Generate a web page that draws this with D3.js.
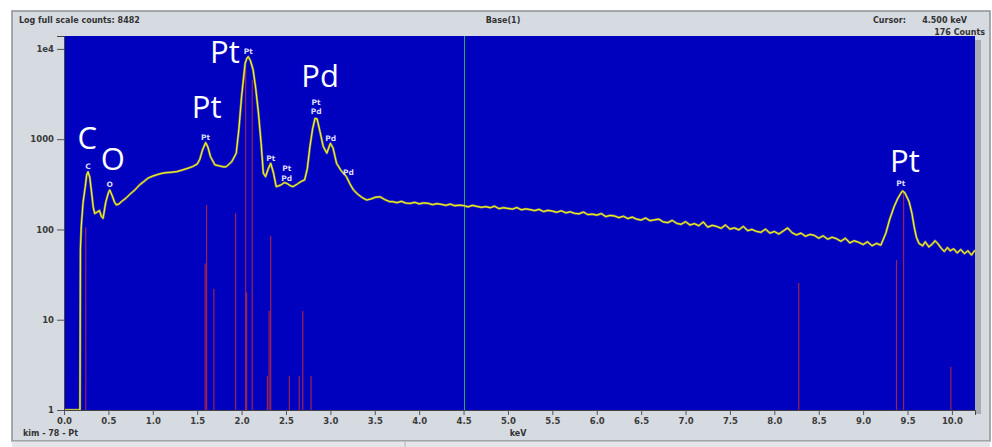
<!DOCTYPE html>
<html>
<head>
<meta charset="utf-8">
<script src="https://cdn.jsdelivr.net/npm/d3@7"></script>
<style>
  html, body { margin: 0; padding: 0; background: #fff; }
  svg { display: block; }
  .tick text { font-family: "DejaVu Sans", sans-serif; font-size: 8.5px; font-weight: bold; fill: #3a3a3a; }
  .tick line { stroke: #555; }
</style>
</head>
<body>
<svg width="992" height="447"></svg>
<script>
// spectrum (keV, counts)
const specKeV = [0, 0.18, 0.185, 0.195, 0.215, 0.24, 0.255, 0.27, 0.29, 0.31, 0.33, 0.346, 0.37, 0.40, 0.42, 0.44, 0.47, 0.50, 0.515, 0.54, 0.57, 0.59, 0.62, 0.65, 0.70, 0.75, 0.80, 0.85, 0.90, 0.95, 1.00, 1.05, 1.10, 1.15, 1.20, 1.27, 1.33, 1.40, 1.45, 1.50, 1.53, 1.56, 1.595, 1.62, 1.65, 1.70, 1.75, 1.80, 1.83, 1.89, 1.94, 1.97, 2.00, 2.04, 2.06, 2.075, 2.10, 2.13, 2.16, 2.19, 2.22, 2.245, 2.27, 2.30, 2.328, 2.36, 2.39, 2.44, 2.48, 2.51, 2.55, 2.58, 2.63, 2.67, 2.71, 2.74, 2.77, 2.80, 2.827, 2.85, 2.88, 2.92, 2.96, 3.00, 3.03, 3.07, 3.12, 3.18, 3.22, 3.26, 3.31, 3.36, 3.41, 3.46, 3.51, 3.56, 3.61, 3.67,
  3.70, 3.75, 3.80, 3.85, 3.90, 3.95, 4.00, 4.05, 4.10, 4.15, 4.20, 4.25, 4.30, 4.35, 4.40, 4.45, 4.50, 4.55, 4.60, 4.65, 4.70, 4.75, 4.80, 4.85, 4.90, 4.95, 5.00, 5.05, 5.10, 5.15, 5.20, 5.25, 5.30, 5.35, 5.40, 5.45, 5.50, 5.55, 5.60, 5.65, 5.70, 5.75, 5.80, 5.85, 5.90, 5.95, 6.00, 6.05, 6.10, 6.15, 6.20, 6.25, 6.30, 6.35, 6.40, 6.45, 6.50, 6.55, 6.60, 6.65, 6.70, 6.75, 6.80, 6.85, 6.90, 6.95, 7.00, 7.05, 7.10, 7.15, 7.20, 7.25, 7.30, 7.35, 7.40, 7.45, 7.50, 7.55, 7.60, 7.65, 7.70, 7.75, 7.80, 7.85, 7.90, 7.95, 8.00, 8.05, 8.10, 8.15, 8.20, 8.25, 8.30, 8.35, 8.40, 8.45, 8.50, 8.55, 8.60, 8.65, 8.70, 8.75, 8.80, 8.85, 8.90, 8.95, 9.00, 9.05, 9.10, 9.15, 9.20,
  9.256, 9.30, 9.349, 9.39, 9.425, 9.444, 9.47, 9.518, 9.55, 9.575, 9.60, 9.63, 9.67, 9.70, 9.74, 9.78, 9.81, 9.84, 9.88, 9.914, 9.95, 9.98, 10.02, 10.06, 10.10, 10.14, 10.18, 10.22, 10.26];
const specCounts = [1, 1, 60, 110, 200, 300, 400, 435, 380, 260, 175, 150, 155, 162, 140, 133, 200, 255, 274, 240, 200, 187, 192, 205, 223, 250, 275, 311, 340, 372, 390, 405, 418, 425, 430, 437, 455, 478, 498, 530, 600, 760, 916, 820, 640, 519, 505, 492, 498, 565, 700, 1300, 2960, 6900, 7900, 8200, 7400, 5850, 3600, 1950, 900, 420, 385, 470, 540, 420, 298, 310, 330, 324, 305, 298, 320, 340, 354, 470, 830, 1300, 1700, 1680, 1250, 830, 700, 900, 800, 540, 450, 385, 320, 274, 245, 225, 212, 218, 228, 230, 215, 203,
  203, 198, 205, 196, 194, 200, 192, 197, 195, 188, 193, 190, 185, 191, 183, 186, 184, 178, 185, 180, 176, 179, 174, 181, 170, 174, 171, 168, 175, 165, 169, 166, 162, 167, 158, 163, 160, 155, 161, 153, 157, 151, 149, 156, 146, 148, 144, 150, 139, 143, 141, 135, 140, 132, 137, 130, 127, 134, 125, 128, 130, 121, 119, 126, 117, 114, 122, 112, 116, 110, 121, 106, 111, 108, 103, 112, 101, 104, 99, 108, 97, 100, 95, 93, 101, 91, 95, 89, 96, 104, 92, 87, 91, 84, 88, 86, 80, 85, 78, 82, 79, 74, 80, 71, 75, 72, 68, 73, 66, 70, 67,
  91, 130, 179, 220, 252, 267, 255, 203, 150, 107, 82, 70, 66, 73, 64, 69, 75, 70, 62, 57, 63, 58, 61, 55, 60, 54, 58, 52, 59];

// element marker lines (keV, counts)
const markerKeV = [0.245, 1.590, 1.606, 1.688, 1.933, 2.046, 2.057, 2.120, 2.290, 2.310, 2.328, 2.538, 2.650, 2.689, 2.782, 8.275, 9.376, 9.456, 9.988];
const markerCounts = [105, 42, 187, 22, 151, 6600, 20, 4500, 2.4, 12.5, 85, 2.4, 2.4, 12.5, 2.4, 25.5, 46, 267, 3];

// peak labels
const bigText = ["C", "O", "Pt", "Pt", "Pd", "Pt"];
const bigKeV = [0.262, 0.549, 1.606, 1.812, 2.884, 9.470];
const bigCounts = [780, 456, 1720, 7000, 3820, 437];

const smallText = ["C", "O", "Pt", "Pt", "Pt", "Pd", "Pt", "Pt", "Pd", "Pd", "Pd", "Pt"];
const smallKeV = [0.271, 0.515, 1.595, 2.075, 2.839, 2.839, 2.328, 2.508, 2.508, 3.004, 3.203, 9.425];
const smallCounts = [467, 292, 968, 8800, 2415, 1905, 578, 448, 342, 964, 405, 301];

const yTicks = [1, 10, 100, 1000, 10000];
const yTickLabels = ["1", "10", "100", "1000", "1e4"];
const xTicks = [0, 0.5, 1, 1.5, 2, 2.5, 3, 3.5, 4, 4.5, 5, 5.5, 6, 6.5, 7, 7.5, 8, 8.5, 9, 9.5, 10];

const cursorKeV = 4.5;

const plotLeft = 64, plotRight = 975, plotTop = 36, plotBottom = 410;

const svg = d3.select("svg");

// panel
svg.append("rect").attr("x", 12).attr("y", 11).attr("width", 978).attr("height", 430)
  .attr("fill", "#d6dae1").attr("stroke", "#8e9095").attr("stroke-width", 1.5);
svg.append("rect").attr("x", 12).attr("y", 441).attr("width", 978).attr("height", 6)
  .attr("fill", "#e4e6ea");
svg.append("line").attr("x1", 12).attr("x2", 990).attr("y1", 441).attr("y2", 441)
  .attr("stroke", "#a0a2a6");
svg.append("line").attr("x1", 405).attr("x2", 405).attr("y1", 441).attr("y2", 447)
  .attr("stroke", "#b0b2b6");

// plot shadow + background
svg.append("rect").attr("x", plotRight).attr("y", plotTop + 4).attr("width", 6).attr("height", plotBottom - plotTop)
  .attr("fill", "#a9acb2");
svg.append("rect").attr("x", plotLeft).attr("y", plotTop).attr("width", plotRight - plotLeft).attr("height", plotBottom - plotTop)
  .attr("fill", "#0000bf");

const x = d3.scaleLinear().domain([0, 10.26]).range([plotLeft, plotRight]);
const y = d3.scaleLog().domain([1, 13900]).range([plotBottom, plotTop]);

svg.append("defs").append("clipPath").attr("id", "clip")
  .append("rect").attr("x", plotLeft).attr("y", plotTop).attr("width", plotRight - plotLeft).attr("height", plotBottom - plotTop);

const plot = svg.append("g").attr("clip-path", "url(#clip)");

// marker lines
plot.selectAll("line.marker")
  .data(markerKeV)
  .enter().append("line")
    .attr("class", "marker")
    .attr("x1", d => x(d)).attr("x2", d => x(d))
    .attr("y1", y(1)).attr("y2", (d, i) => y(markerCounts[i]))
    .attr("stroke", "#9c2450").attr("stroke-width", 1.2);

// cursor
plot.append("line")
  .attr("x1", Math.round(x(cursorKeV)) + 0.5).attr("x2", Math.round(x(cursorKeV)) + 0.5)
  .attr("y1", plotTop).attr("y2", plotBottom)
  .attr("stroke", "#22b060").attr("stroke-width", 1);

// spectrum
const pts = specKeV.map((k, i) => [k, specCounts[i]]);
const line = d3.line().x(d => x(d[0])).y(d => y(d[1]));
plot.append("path").datum(pts).attr("d", line)
  .attr("fill", "none").attr("stroke", "#8a8a60").attr("stroke-width", 2.3).attr("stroke-linejoin", "round");
plot.append("path").datum(pts).attr("d", line)
  .attr("fill", "none").attr("stroke", "#ffff14").attr("stroke-width", 1.0).attr("stroke-linejoin", "round");

// labels
plot.selectAll("text.big")
  .data(bigText)
  .enter().append("text")
    .attr("class", "big")
    .attr("x", (d, i) => x(bigKeV[i]))
    .attr("y", (d, i) => y(bigCounts[i]))
    .attr("text-anchor", "middle")
    .attr("font-family", "'Open Sans', sans-serif")
    .attr("font-size", 31)
    .attr("fill", "#ffffff")
    .text(d => d);

plot.selectAll("text.small")
  .data(smallText)
  .enter().append("text")
    .attr("class", "small")
    .attr("x", (d, i) => x(smallKeV[i]))
    .attr("y", (d, i) => y(smallCounts[i]))
    .attr("text-anchor", "middle")
    .attr("font-family", "'DejaVu Sans', sans-serif")
    .attr("font-size", 7.5)
    .attr("font-weight", "bold")
    .attr("fill", "#dcdcff")
    .text(d => d);

// axes
const yAxis = svg.append("g").attr("transform", `translate(${plotLeft},0)`)
  .call(d3.axisLeft(y).tickValues(yTicks).tickSize(7).tickPadding(3)
    .tickFormat((d, i) => yTickLabels[i]));
yAxis.select(".domain").attr("stroke", "#444");

const xAxis = svg.append("g").attr("transform", `translate(0,${plotBottom})`)
  .call(d3.axisBottom(x).tickValues(xTicks).tickSize(5).tickPadding(3)
    .tickFormat(d3.format(".1f")));
xAxis.select(".domain").attr("stroke", "#444");

// header / footer text
const info = svg.append("g")
  .attr("font-family", "'DejaVu Sans', sans-serif")
  .attr("font-size", 8)
  .attr("font-weight", "bold")
  .attr("fill", "#333");
info.append("text").attr("x", 19).attr("y", 23).text("Log full scale counts: 8482");
info.append("text").attr("x", 503).attr("y", 23).attr("text-anchor", "middle").text("Base(1)");
info.append("text").attr("x", 873).attr("y", 23).text("Cursor:");
info.append("text").attr("x", 967).attr("y", 23).attr("text-anchor", "end").text("4.500 keV");
info.append("text").attr("x", 985).attr("y", 35).attr("text-anchor", "end").text("176 Counts");
info.append("text").attr("x", 23).attr("y", 436).text("kim - 78 - Pt");
info.append("text").attr("x", 518).attr("y", 436).attr("text-anchor", "middle").text("keV");
</script>
</body>
</html>
